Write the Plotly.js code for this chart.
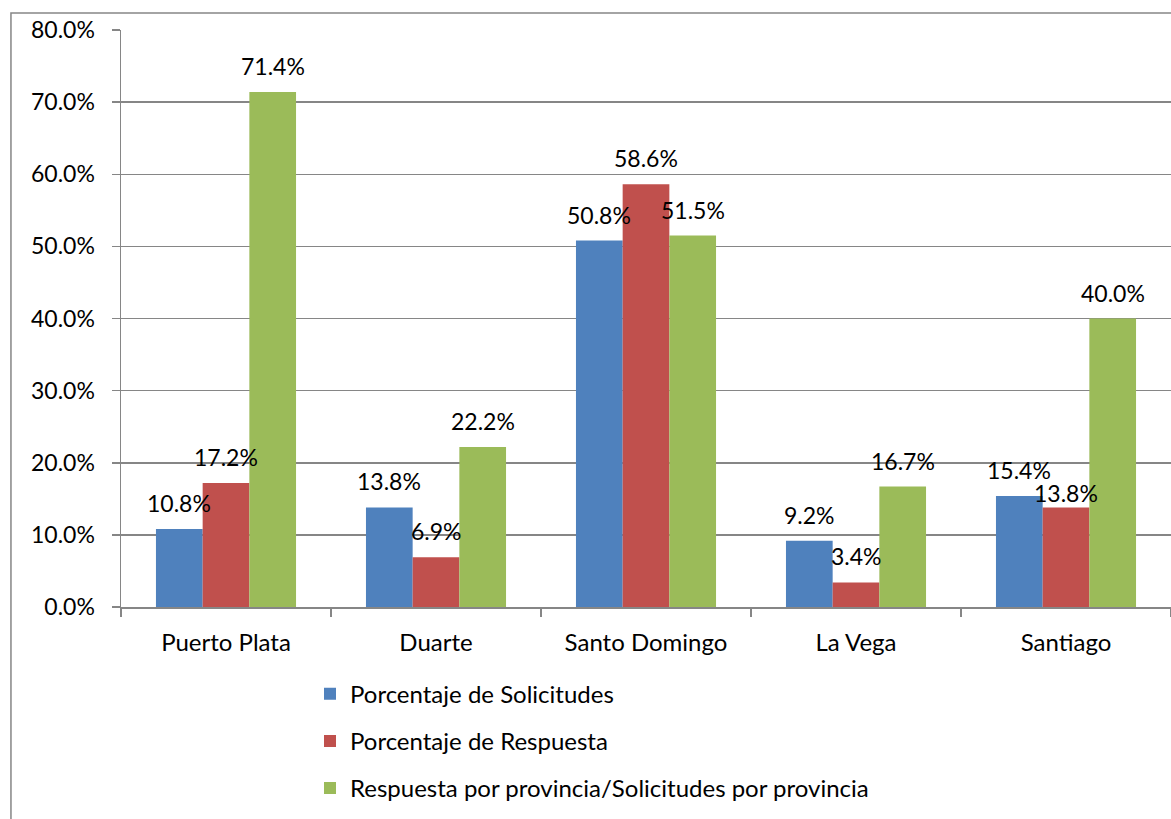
<!DOCTYPE html>
<html>
<head>
<meta charset="utf-8">
<script src="https://cdn.plot.ly/plotly-3.0.1.min.js"></script>
<style>html,body{margin:0;padding:0;background:#fff;}#chart{width:1171px;height:819px;}</style>
</head>
<body>
<div id="chart"></div>
<script>
const provincias = ["Puerto Plata", "Duarte", "Santo Domingo", "La Vega", "Santiago"];
const serieNombres = ["Porcentaje de Solicitudes", "Porcentaje de Respuesta", "Respuesta por provincia/Solicitudes por provincia"];
const solicitudes = [0.108, 0.138, 0.508, 0.092, 0.154];
const respuesta = [0.172, 0.069, 0.586, 0.034, 0.138];
const ratio = [0.714, 0.222, 0.515, 0.167, 0.400];
const yTicks = [0, 0.1, 0.2, 0.3, 0.4, 0.5, 0.6, 0.7, 0.8];

const colores = ["#4F81BD", "#C0504D", "#9BBB59"];
const valores = [solicitudes, respuesta, ratio];
const FONT = "Lato, 'Liberation Sans', sans-serif";

const PLOT_W = 1050;
const BARGAP = 0.333;
const barPx = PLOT_W / provincias.length * (1 - BARGAP) / valores.length;

const traces = valores.map((v, i) => ({
  type: "bar",
  x: provincias,
  y: v,
  name: serieNombres[i],
  legendgroup: "g" + i,
  marker: {color: colores[i], line: {width: 0}},
  hoverinfo: "x+y"
}));

const annotations = [];
valores.forEach((v, i) => {
  v.forEach((val, j) => {
    // the Santiago "Respuesta" label sits lower in the original to clear its neighbour
    const lowered = (i === 1 && provincias[j] === "Santiago");
    annotations.push({
      xref: "x", yref: "y",
      x: provincias[j], y: val,
      text: (val * 100).toFixed(1) + "%",
      showarrow: false,
      xanchor: "center", yanchor: "bottom",
      xshift: (i - 1) * barPx,
      yshift: lowered ? -2 : 10,
      font: {family: FONT, size: 23, color: "#000"}
    });
  });
});

const layout = {
  width: 1171,
  height: 819,
  margin: {l: 121, r: 0, t: 30, b: 212},
  paper_bgcolor: "#fff",
  plot_bgcolor: "#fff",
  font: {family: FONT, size: 23, color: "#000"},
  barmode: "group",
  bargap: BARGAP,
  bargroupgap: 0,
  showlegend: true,
  legend: {
    orientation: "v",
    x: 0.18,
    y: -0.112,
    xanchor: "left",
    yanchor: "top",
    font: {family: FONT, size: 24, color: "#000"},
    tracegroupgap: 13,
    itemwidth: 30,
    bgcolor: "rgba(0,0,0,0)"
  },
  annotations: annotations,
  xaxis: {
    type: "category",
    showline: true,
    linecolor: "#868686",
    linewidth: 1.5,
    ticks: "outside",
    tickson: "boundaries",
    ticklen: 8,
    tickcolor: "#868686",
    tickwidth: 1.5,
    showgrid: false,
    ticklabelstandoff: 14,
    tickfont: {family: FONT, size: 24, color: "#000"}
  },
  yaxis: {
    range: [0, 0.8],
    tickvals: yTicks,
    tickformat: ".1%",
    showline: true,
    linecolor: "#868686",
    linewidth: 1.5,
    ticks: "outside",
    ticklen: 8,
    tickcolor: "#868686",
    tickwidth: 1.5,
    showgrid: true,
    gridcolor: "#868686",
    gridwidth: 1.5,
    zeroline: false,
    ticklabelstandoff: 12,
    tickfont: {family: FONT, size: 23, color: "#000"}
  },
  shapes: [{
    type: "rect",
    xref: "paper", yref: "paper",
    x0: -0.1048, x1: 1.2,
    y0: -0.6, y1: 1.0295,
    line: {color: "#868686", width: 1.5},
    fillcolor: "rgba(0,0,0,0)",
    layer: "below"
  }]
};

Plotly.newPlot("chart", traces, layout, {displayModeBar: false, staticPlot: true});
</script>
</body>
</html>
